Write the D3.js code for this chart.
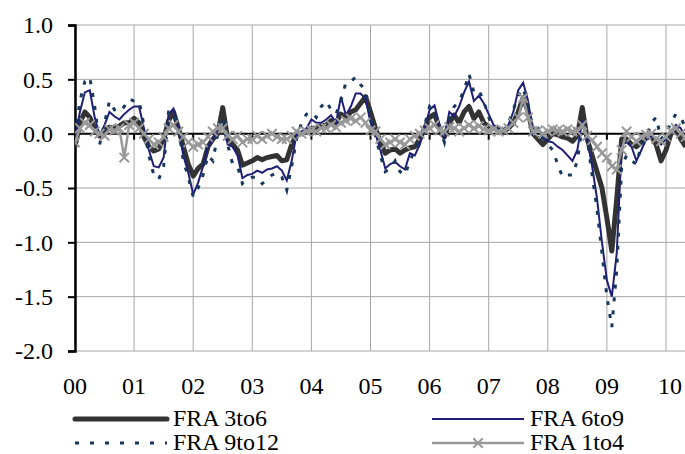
<!DOCTYPE html>
<html>
<head>
<meta charset="utf-8">
<script src="https://cdn.jsdelivr.net/npm/d3@7"></script>
<style>
  body { margin: 0; background: #fff; }
  svg text { font-family: "Liberation Serif", "DejaVu Serif", "Noto Serif", serif; }
</style>
</head>
<body>
<svg id="chart" width="685" height="454"></svg>
<script>
// monthly values, Jan 2000 .. Apr 2010
var fra3to6 = [
  -0.12, 0.10, 0.20, 0.15, 0.05, -0.02, 0.03, 0.06, 0.05, 0.07, 0.10, 0.10,
  0.14, 0.10, -0.03, -0.12, -0.16, -0.14, -0.05, 0.12, 0.20, 0.05, -0.12, -0.28,
  -0.39, -0.32, -0.28, -0.12, -0.05, 0.00, 0.24, -0.05, -0.10, -0.15, -0.29, -0.27,
  -0.25, -0.22, -0.24, -0.22, -0.21, -0.20, -0.25, -0.24, -0.10, 0.00, 0.00, 0.03,
  0.05, 0.05, 0.07, 0.08, 0.12, 0.10, 0.18, 0.15, 0.20, 0.22, 0.28, 0.34,
  0.20, 0.05, -0.08, -0.18, -0.15, -0.14, -0.18, -0.15, -0.13, -0.12, -0.05, 0.05,
  0.15, 0.18, 0.05, -0.03, 0.10, 0.17, 0.10, 0.20, 0.25, 0.14, 0.20, 0.10,
  0.06, 0.05, 0.04, 0.02, 0.05, 0.10, 0.20, 0.33, 0.20, 0.00, -0.05, -0.10,
  -0.05, 0.00, -0.01, -0.03, -0.04, -0.07, -0.02, 0.24, -0.05, -0.20, -0.35, -0.50,
  -0.78, -1.08, -0.60, -0.05, -0.05, -0.10, -0.12, -0.08, -0.04, -0.02, -0.10, -0.25,
  -0.15, 0.00, 0.05, -0.05, -0.12
];
var fra6to9 = [
  -0.05, 0.20, 0.38, 0.40, 0.15, -0.02, 0.08, 0.20, 0.16, 0.13, 0.18, 0.22,
  0.25, 0.25, 0.05, -0.15, -0.30, -0.31, -0.22, 0.18, 0.23, 0.05, -0.20, -0.36,
  -0.56, -0.45, -0.30, -0.12, -0.05, 0.05, 0.10, -0.10, -0.12, -0.20, -0.41, -0.38,
  -0.37, -0.34, -0.36, -0.33, -0.32, -0.30, -0.34, -0.43, -0.25, 0.00, 0.02, 0.05,
  0.13, 0.10, 0.10, 0.13, 0.17, 0.10, 0.34, 0.17, 0.25, 0.37, 0.37, 0.32,
  0.10, 0.00, -0.15, -0.32, -0.28, -0.26, -0.30, -0.33, -0.18, -0.20, -0.10, 0.05,
  0.22, 0.26, 0.08, -0.04, 0.20, 0.16, 0.25, 0.38, 0.48, 0.30, 0.35, 0.28,
  0.18, 0.08, 0.05, 0.04, 0.08, 0.20, 0.40, 0.47, 0.30, 0.00, 0.05, -0.03,
  -0.07, -0.08, -0.12, -0.15, -0.20, -0.25, -0.15, 0.12, -0.05, -0.30, -0.60, -1.00,
  -1.35, -1.50, -1.10, -0.10, -0.08, -0.12, -0.25, -0.15, -0.05, -0.02, -0.05, -0.10,
  -0.05, 0.02, 0.08, 0.05, -0.05
];
var fra9to12 = [
  -0.02, 0.30, 0.48, 0.52, 0.25, -0.10, 0.10, 0.30, 0.22, 0.20, 0.25, 0.32,
  0.30, 0.30, 0.08, -0.20, -0.38, -0.42, -0.30, 0.20, 0.20, 0.05, -0.25, -0.40,
  -0.58, -0.50, -0.38, -0.20, -0.25, 0.00, 0.15, -0.10, -0.28, -0.30, -0.46, -0.42,
  -0.40, -0.40, -0.46, -0.42, -0.38, -0.36, -0.40, -0.52, -0.30, -0.05, 0.10, 0.18,
  0.20, 0.15, 0.25, 0.30, 0.22, 0.18, 0.30, 0.47, 0.48, 0.52, 0.45, 0.40,
  0.15, -0.02, -0.20, -0.35, -0.32, -0.25, -0.35, -0.38, -0.25, -0.15, -0.05, 0.08,
  0.25, 0.20, 0.05, -0.08, 0.15, 0.25, 0.30, 0.40, 0.55, 0.38, 0.40, 0.30,
  0.15, 0.05, 0.05, 0.00, 0.10, 0.22, 0.35, 0.42, 0.25, 0.05, 0.05, -0.05,
  -0.10, -0.15, -0.28, -0.40, -0.38, -0.38, -0.25, 0.08, -0.05, -0.38, -0.70, -1.10,
  -1.50, -1.78, -1.25, -0.30, -0.20, -0.25, -0.28, -0.10, -0.05, 0.10, 0.15, -0.05,
  0.00, 0.10, 0.18, 0.15, 0.05
];
var fra1to4 = [
  -0.08, 0.05, 0.10, 0.08, 0.02, 0.00, -0.02, 0.04, 0.03, 0.05, -0.22, 0.08,
  0.10, 0.05, 0.00, -0.05, -0.10, -0.08, -0.03, 0.05, 0.08, 0.02, -0.03, -0.08,
  -0.12, -0.10, -0.08, -0.03, 0.02, 0.05, 0.05, -0.02, -0.05, -0.02, -0.08, -0.05,
  -0.05, -0.02, -0.05, -0.02, 0.00, -0.03, -0.05, -0.05, -0.02, 0.02, 0.00, 0.02,
  0.03, 0.02, 0.05, 0.05, 0.08, 0.06, 0.10, 0.12, 0.14, 0.12, 0.15, 0.10,
  0.03, 0.02, -0.05, -0.10, -0.08, -0.05, -0.08, -0.10, -0.05, -0.02, 0.00, 0.03,
  0.05, 0.08, 0.03, 0.02, 0.06, 0.05, 0.02, 0.05, 0.08, 0.05, 0.07, 0.04,
  0.03, 0.04, 0.02, 0.03, 0.05, 0.10, 0.15, 0.33, 0.15, 0.02, 0.03, 0.00,
  0.02, 0.04, 0.03, 0.02, 0.04, 0.02, 0.02, 0.08, -0.02, -0.06, -0.12, -0.18,
  -0.22, -0.30, -0.33, -0.15, 0.02, -0.03, -0.07, -0.03, -0.01, 0.00, -0.05, -0.07,
  -0.03, 0.03, 0.05, 0.00, -0.03
];
var yearLabels = ["00", "01", "02", "03", "04", "05", "06", "07", "08", "09", "10"];
var yTicks = [1.0, 0.5, 0.0, -0.5, -1.0, -1.5, -2.0];
var seriesNames = ["FRA 3to6", "FRA 6to9", "FRA 9to12", "FRA 1to4"];

var serif = '"Liberation Serif", "DejaVu Serif", "Noto Serif", serif';
var fontSize = 24;

function draw() {
  var svg = d3.select("#chart");
  var pLeft = 75, pRight = 685, pTop = 25, pBottom = 351;

  var x = d3.scaleLinear().domain([0, 120]).range([pLeft, 666]);
  var y = d3.scaleLinear().domain([-2, 1]).range([pBottom, pTop]);

  // grid
  var grid = svg.append("g");
  grid.selectAll("line.h").data(yTicks).enter().append("line")
    .attr("x1", pLeft).attr("x2", pRight)
    .attr("y1", d => y(d)).attr("y2", d => y(d))
    .style("stroke", "#a6a6a6").style("stroke-width", 1);
  grid.selectAll("line.v").data(yearLabels).enter().append("line")
    .attr("x1", (d, i) => x(i * 12)).attr("x2", (d, i) => x(i * 12))
    .attr("y1", pTop).attr("y2", pBottom)
    .style("stroke", "#a6a6a6").style("stroke-width", 1);

  // zero line with ticks
  svg.append("line")
    .attr("x1", pLeft).attr("x2", pRight).attr("y1", y(0)).attr("y2", y(0))
    .style("stroke", "#000").style("stroke-width", 2);
  svg.append("g").selectAll("line").data(yearLabels).enter().append("line")
    .attr("x1", (d, i) => x(i * 12)).attr("x2", (d, i) => x(i * 12))
    .attr("y1", y(0)).attr("y2", y(0) + 6)
    .style("stroke", "#000").style("stroke-width", 2);

  // y axis
  var yAxis = d3.axisLeft(y).tickValues(yTicks).tickSize(7).tickPadding(15)
    .tickFormat(d => d3.format(".1f")(d).replace("\u2212", "-"));
  var ya = svg.append("g").attr("transform", "translate(" + pLeft + ",0)").call(yAxis);
  ya.attr("font-family", serif).attr("font-size", fontSize);
  ya.select(".domain").style("stroke", "#000").style("stroke-width", 2.5);
  ya.selectAll(".tick line").style("stroke", "#000").style("stroke-width", 2);
  ya.selectAll("text").attr("font-family", serif).attr("font-size", fontSize).style("fill", "#000");

  // x labels
  svg.append("g").selectAll("text").data(yearLabels).enter().append("text")
    .attr("x", (d, i) => x(i * 12) + (i == 10 ? 4 : 0)).attr("y", 394)
    .attr("text-anchor", "middle")
    .attr("font-family", serif).attr("font-size", fontSize)
    .text(d => d);

  // series
  svg.append("clipPath").attr("id", "clip").append("rect")
    .attr("x", pLeft).attr("y", 0).attr("width", pRight - pLeft).attr("height", 454);
  var plot = svg.append("g").attr("clip-path", "url(#clip)");
  var line = d3.line().x((d, i) => x(i)).y(d => y(d));

  plot.append("path").attr("d", line(fra3to6))
    .style("fill", "none").style("stroke", "#333333").style("stroke-width", 5).style("stroke-linejoin", "round");
  plot.append("path").attr("d", line(fra6to9))
    .style("fill", "none").style("stroke", "#1f1f78").style("stroke-width", 2);
  plot.append("path").attr("d", line(fra9to12))
    .style("fill", "none").style("stroke", "#17375e").style("stroke-width", 3).style("stroke-dasharray", "4,9");
  plot.append("path").attr("d", line(fra1to4))
    .style("fill", "none").style("stroke", "#999999").style("stroke-width", 2.5);

  var cross = d3.symbol().type(d3.symbolTimes).size(60);
  plot.selectAll("path.mk").data(fra1to4).enter().append("path")
    .attr("class", "mk")
    .attr("d", cross)
    .attr("transform", (d, i) => "translate(" + x(i) + "," + y(d) + ")")
    .style("fill", "none").style("stroke", "#999999").style("stroke-width", 2);

  // legend
  var legendPos = [
    {x: 75, y: 419}, {x: 432, y: 419}, {x: 75, y: 443}, {x: 432, y: 443}
  ];
  var legendStyle = [
    {c: "#333333", w: 5, dash: null},
    {c: "#1f1f78", w: 2, dash: null},
    {c: "#17375e", w: 3, dash: "4,11"},
    {c: "#999999", w: 2.5, dash: null}
  ];
  seriesNames.forEach(function(name, i) {
    var p = legendPos[i], s = legendStyle[i];
    svg.append("line")
      .attr("x1", p.x).attr("x2", p.x + 92).attr("y1", p.y).attr("y2", p.y)
      .style("stroke", s.c).style("stroke-width", s.w)
      .style("stroke-dasharray", s.dash).style("stroke-linecap", i == 0 ? "round" : "butt");
    if (i == 3) {
      svg.append("path").attr("d", cross)
        .attr("transform", "translate(" + (p.x + 46) + "," + p.y + ")")
        .style("fill", "none").style("stroke", "#999999").style("stroke-width", 2);
    }
    svg.append("text").attr("x", p.x + 98).attr("y", p.y + 7)
      .attr("font-family", serif).attr("font-size", fontSize)
      .text(name);
  });
}
draw();
</script>
</body>
</html>
